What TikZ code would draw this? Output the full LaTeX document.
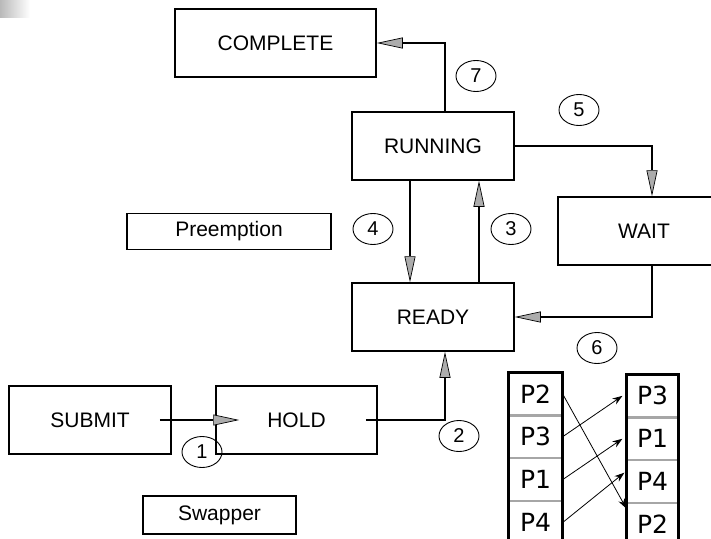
\documentclass[tikz,border=0pt]{standalone}
\usepackage{fontspec}
\setmainfont{Liberation Sans}
\newfontfamily\cellfont{DejaVu Sans}
\usetikzlibrary{arrows.meta,positioning,shapes.geometric}

\begin{document}
\begin{tikzpicture}[x=1pt,y=-1pt,
  state/.style={draw,line width=1.5pt,minimum width=162pt,minimum height=68pt,inner sep=0pt,font=\fontsize{21}{24}\selectfont},
  note/.style={draw,line width=1.1pt,minimum height=36pt,inner sep=0pt,font=\fontsize{21}{24}\selectfont},
  badge/.style={ellipse,draw,line width=0.9pt,minimum width=40pt,minimum height=31pt,inner sep=0pt,font=\fontsize{20}{22}\selectfont},
  flow/.style={line width=1.4pt,-{Triangle[length=26pt,width=11pt,line width=0.7pt,fill=gray!65]}},
  cell/.style={draw=gray!70,line width=1.2pt,minimum width=53pt,minimum height=41.7pt,inner sep=0pt,font=\cellfont\fontsize{25}{27}\selectfont},
  wall/.style={line width=3pt},
  swap/.style={line width=0.8pt,-{Stealth[length=10pt,width=7pt]}}]
\useasboundingbox (0,0) rectangle (711,538);
\clip (0,0) rectangle (711,538);
\shade[left color=gray!55,right color=white] (0,0) rectangle (30,17);
% ---------------- states ----------------
\node[state,minimum width=201pt] (complete) at (275.5,43) {COMPLETE};
\node[state] (running) at (433,146) {RUNNING};
\node[state,minimum width=172pt] (wait) at (644,231) {WAIT};
\node[state] (ready) at (433,317) {READY};
\node[state] (submit) at (90,420) {SUBMIT};
\node[state,minimum width=161pt] (hold) at (296.5,420) {HOLD};
\node[note,minimum width=204pt] (preempt) at (229,231.5) {Preemption};
\node[note,minimum width=153pt,minimum height=38pt] (swapper) at (219.5,515) {Swapper};
% ---------------- transitions ----------------
\draw[flow] ([xshift=-12pt]submit.east) -- ([xshift=24pt]hold.west);
\draw[flow] ([xshift=-12pt]hold.east) -| ([xshift=12pt]ready.south);
\draw[flow] ([xshift=46pt]ready.north) -- ([xshift=46pt]running.south);
\draw[flow] ([xshift=-23pt]running.south) -- ([xshift=-23pt]ready.north);
\draw[flow] (running.east) -| ([xshift=8pt]wait.north);
\draw[flow] ([xshift=8pt]wait.south) |- (ready.east);
\draw[flow] ([xshift=12pt]running.north) |- (complete.east);
% numbered steps
\node[badge] (n1) at (202,452) {1};
\node[badge] (n2) at (459,436) {2};
\node[badge] (n3) at (511,229) {3};
\node[badge] (n4) at (373,229) {4};
\node[badge] (n5) at (579,110) {5};
\node[badge] (n6) at (597,348) {6};
\node[badge] (n7) at (476,76) {7};
% ---------------- queues before / after swap ----------------
\node[cell] (lp2) at (535.5,393.85) {P2};
\node[cell,below=0pt of lp2] (lp3) {P3};
\node[cell,below=0pt of lp3] (lp1) {P1};
\node[cell,below=0pt of lp1] (lp4) {P4};
\node[cell,minimum width=51pt] (rp3) at (652.5,395.85) {P3};
\node[cell,minimum width=51pt,below=0pt of rp3] (rp1) {P1};
\node[cell,minimum width=51pt,below=0pt of rp1] (rp4) {P4};
\node[cell,minimum width=51pt,below=0pt of rp4] (rp2) {P2};
\draw[wall] (lp4.south west) -- (lp2.north west) -- (lp2.north east) -- (lp4.south east);
\draw[wall] (rp2.south west) -- (rp3.north west) -- (rp3.north east) -- (rp2.south east);
\draw[swap] (lp2.east) -- ([yshift=16pt]rp2.west);
\draw[swap] (lp3.east) -- ([xshift=-4pt]rp3.west);
\draw[swap] (lp1.east) -- ([xshift=-4pt]rp1.west);
\draw[swap] (lp4.east) -- ([xshift=-2pt,yshift=9pt]rp4.west);
\end{tikzpicture}
\end{document}
